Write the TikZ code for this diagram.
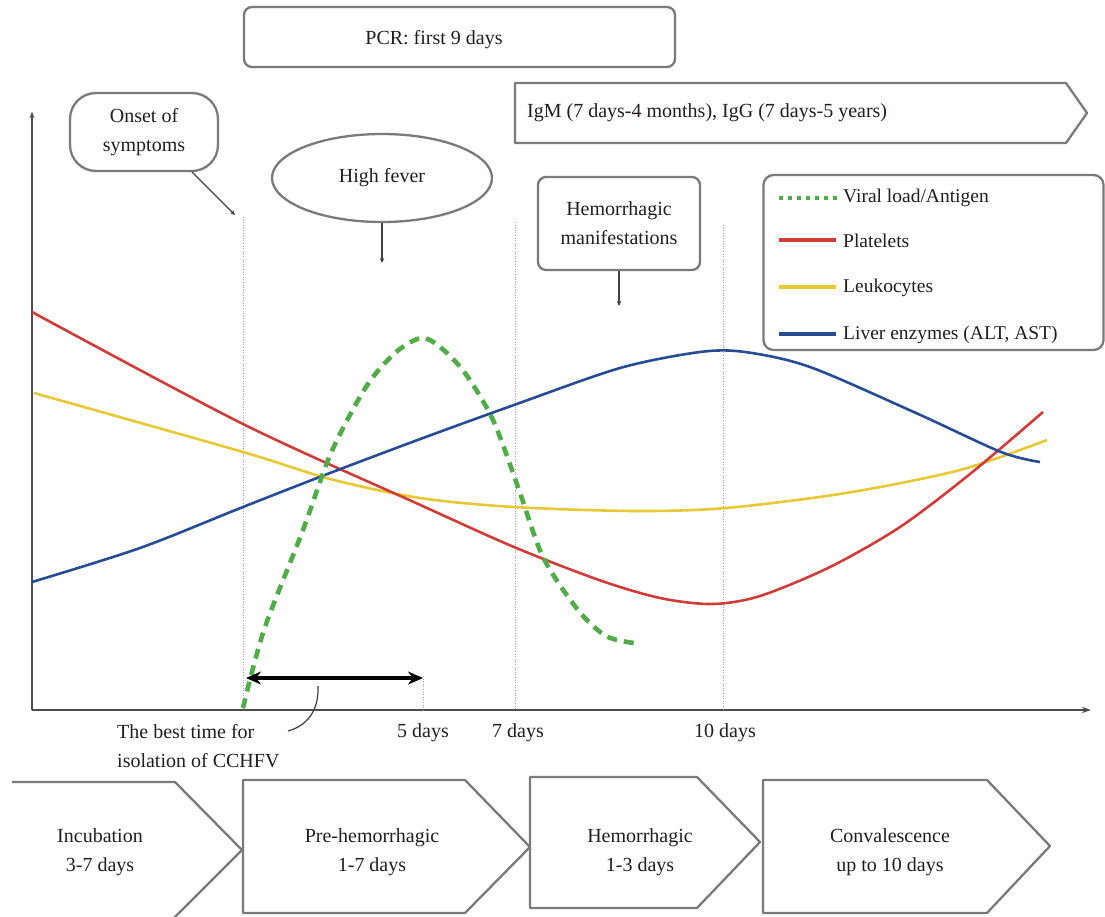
\documentclass[tikz,border=0pt]{standalone}
\usepackage{fontspec}
\setmainfont{Liberation Serif}
\usetikzlibrary{arrows.meta,shapes.geometric}
\definecolor{redc}{RGB}{210,60,56}
\definecolor{yelc}{RGB}{232,200,52}
\definecolor{bluc}{RGB}{38,76,150}
\definecolor{grnc}{RGB}{80,172,70}
\definecolor{boxgray}{RGB}{122,122,122}
\definecolor{ink}{RGB}{35,30,30}
\begin{document}
\begin{tikzpicture}[x=1pt,y=-1pt,
  txt/.style={font=\rmfamily\fontsize{20}{29}\selectfont, text=ink, align=center, inner sep=0pt},
  frame/.style={draw=boxgray, line width=2.3pt},
  callbox/.style={frame, rounded corners=8pt, fill=white},
  dotv/.style={draw=gray!75, line width=1pt, dash pattern=on 1pt off 1.6pt},
  curve/.style={line width=2.6pt, smooth, tension=0.5},
  pointer/.style={draw=gray!50!black, line width=1.2pt, -{Stealth[length=5pt,width=4.5pt]}},
  axis/.style={draw=gray!60!black, line width=1.3pt}
]
\useasboundingbox (0,0) rectangle (1105,916);

% ---- top boxes
\node[callbox, minimum width=431pt, minimum height=60pt, inner sep=0pt] (pcrbox) at (459.5,37) {};
\node[txt] (pcr) at (434,40) {PCR: first 9 days};

\coordinate (igA) at (515,83);
\coordinate (igB) at (1066,83);
\coordinate (igC) at (1087,113);
\coordinate (igD) at (1066,143);
\coordinate (igE) at (515,143);
\draw[frame, fill=white, line join=round] (igA) -- (igB) -- (igC) -- (igD) -- (igE) -- cycle;
\node[txt, anchor=west] (igm) at (527,113) {IgM (7 days-4 months), IgG (7 days-5 years)};

% ---- callouts
\node[frame, rounded corners=26pt, minimum width=148pt, minimum height=78pt, txt] (onset) at (144,132) {Onset of\\symptoms};
\node[frame, ellipse, minimum width=220pt, minimum height=88pt, txt] (fever) at (382,178) {High fever};
\node[callbox, minimum width=162pt, minimum height=93pt, txt] (hemman) at (619,223.5) {Hemorrhagic\\manifestations};

\coordinate (onsetpt) at (235,215);
\coordinate (feverpt) at (382,263);
\coordinate (hempt) at (619,306);
\draw[pointer] (192,172) -- (onsetpt);
\draw[pointer] (fever.south) -- (feverpt);
\draw[pointer] (hemman.south) -- (hempt);

% ---- axes
\coordinate (origin) at (32,710);
\coordinate (ytop) at (32,112);
\coordinate (xend) at (1091,710);
\draw[axis, -{Stealth[length=6pt,width=5pt]}] (origin) -- (ytop);
\draw[axis, -{Stealth[length=9pt,width=6pt]}] (origin) -- (xend);

% ---- dotted day markers
\draw[dotv] (243,217) -- (243,710);
\draw[dotv] (515,222) -- (515,710);
\draw[dotv] (723,225) -- (723,710);
\draw[dotv] (423,676) -- (423,710);

\node[txt] (d5) at (423,733) {5 days};
\node[txt] (d7) at (518,733) {7 days};
\node[txt] (d10) at (725,733) {10 days};

% ---- curves
\draw[curve, yelc] plot coordinates {(34,393) (243,452) (330,479) (420,498) (514,507) (634,511) (726,508) (846,493) (960,470) (1047,440)};
\draw[curve, redc] plot coordinates {(32,312) (243,424) (416,503) (514,547) (599,580) (660,598) (712,604) (760,596) (830,567) (900,527) (970,474) (1043,412)};
\draw[curve, bluc] plot coordinates {(32,582) (140,548) (243,507) (330,473) (423,438) (514,405) (620,368) (700,352) (745,352) (810,367) (916,413) (1001,452) (1040,462)};
\draw[curve, grnc, line width=4.6pt, dash pattern=on 10pt off 7pt] plot coordinates {(243,708) (264,630) (303,530) (331,453) (366,387) (395,353) (421,338) (440,347) (465,373) (493,420) (518,487) (543,557) (578,610) (606,636) (634,643)};

% ---- best isolation time
\coordinate (bestA) at (246,678);
\coordinate (bestB) at (423,678);
\draw[line width=4pt, {Stealth[length=15pt,width=13pt]}-{Stealth[length=15pt,width=13pt]}] (bestA) -- (bestB);
\node[txt, align=left, anchor=west] (besttxt) at (117,746) {The best time for\\isolation of CCHFV};
\coordinate (bestlink) at (318,686);
\draw[line width=1.2pt, gray!50!black] (bestlink) .. controls (319,712) and (306,726) .. (288,731);

% ---- legend
\node[callbox, minimum width=340pt, minimum height=175pt, rounded corners=10pt] (legend) at (933.5,262.5) {};
\draw[grnc, line width=4pt, dash pattern=on 4pt off 5pt] (779,198) -- (838,198);
\node[txt, anchor=west, font=\rmfamily\fontsize{19.5}{24}\selectfont] (lgv) at (843,198) {Viral load/Antigen};
\draw[redc, line width=4.5pt] (779,240) -- (836,240);
\node[txt, anchor=west, font=\rmfamily\fontsize{19.5}{24}\selectfont] (lgp) at (843,241) {Platelets};
\draw[yelc, line width=4.5pt] (779,287) -- (836,287);
\node[txt, anchor=west, font=\rmfamily\fontsize{19.5}{24}\selectfont] (lgl) at (843,288) {Leukocytes};
\draw[bluc, line width=4.5pt] (779,334) -- (836,334);
\node[txt, anchor=west, font=\rmfamily\fontsize{19.5}{24}\selectfont] (lge) at (843,335) {Liver enzymes (ALT, AST)};

% ---- phase arrows
\draw[frame, line join=round] (12,782) -- (175,782) -- (242,850) -- (174,918);
\node[txt] (inc) at (100,852) {Incubation\\3-7 days};

\draw[frame, line join=round] (243,780) -- (465,780) -- (530,847) -- (465,913) -- (243,913) -- cycle;
\node[txt] (pre) at (372,852) {Pre-hemorrhagic\\1-7 days};

\draw[frame, line join=round] (530,777) -- (697,777) -- (760,842) -- (697,908) -- (530,908) -- cycle;
\node[txt] (hem) at (640,852) {Hemorrhagic\\1-3 days};

\draw[frame, line join=round] (763,780) -- (987,780) -- (1050,846) -- (987,913) -- (763,913) -- cycle;
\node[txt] (con) at (890,852) {Convalescence\\up to 10 days};
\end{tikzpicture}
\end{document}
